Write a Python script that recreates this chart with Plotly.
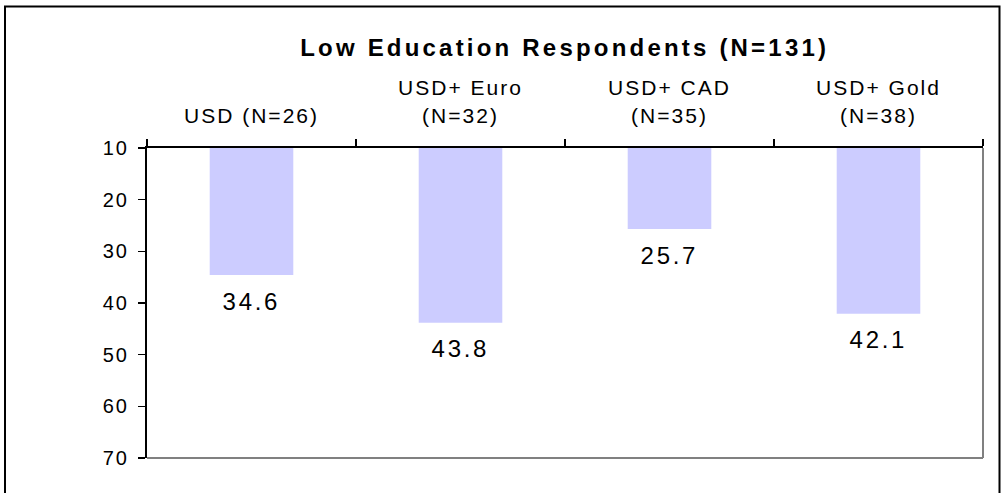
import plotly.graph_objects as go

categories = ["USD (N=26)", "USD+ Euro<br>(N=32)", "USD+ CAD<br>(N=35)", "USD+ Gold<br>(N=38)"]
values = [34.6, 43.8, 25.7, 42.1]
base_value = 10
y_ticks = [10, 20, 30, 40, 50, 60, 70]
title_text = "<b>Low Education Respondents (N=131)</b>"

W, H = 1003, 493
ML, MR, MT, MB = 147, 20, 148, 35
FONT = "Liberation Sans, Arial, sans-serif"

fig = go.Figure()
fig.add_trace(go.Bar(
    x=categories,
    y=[v - base_value for v in values],
    base=base_value,
    width=0.4,
    marker=dict(color="#CCCCFF", line=dict(width=0)),
    hoverinfo="skip",
    showlegend=False,
))

for c, v in zip(categories, values):
    fig.add_annotation(x=c, y=v, text=f"{v:.1f}", showarrow=False,
                       xref="x", yref="y", yanchor="middle", yshift=-26,
                       font=dict(family=FONT, size=24, color="black"))

pw = W - ML - MR
ph = H - MT - MB
# outer frame
fig.add_shape(type="rect", xref="paper", yref="paper",
              x0=(5 - ML) / pw, x1=(999.5 - ML) / pw,
              y0=-0.3, y1=(H - MB - 6.5) / ph,
              line=dict(color="black", width=2), layer="below")
# grey right and bottom plot edges
fig.add_shape(type="line", xref="paper", yref="paper", x0=1, x1=1, y0=0, y1=1,
              line=dict(color="#808080", width=2))
fig.add_shape(type="line", xref="paper", yref="paper", x0=0, x1=1, y0=0, y1=0,
              line=dict(color="#808080", width=2))

fig.update_layout(
    width=W, height=H,
    margin=dict(l=ML, r=MR, t=MT, b=MB, pad=0),
    paper_bgcolor="white", plot_bgcolor="white",
    font=dict(family=FONT, color="black"),
    title=dict(text=title_text, x=(564.7) / W, xanchor="center",
               y=1 - 47.5 / H, yanchor="middle", yref="container",
               font=dict(family=FONT, size=24, color="black")),
    bargap=0.6,
    xaxis=dict(
        side="top", type="category",
        tickson="boundaries", ticks="outside", ticklen=7, tickcolor="black", tickwidth=1.5,
        showline=True, linecolor="black", linewidth=2,
        showgrid=False, zeroline=False,
        tickfont=dict(family=FONT, size=21, color="black"),
        ticklabelstandoff=15,
        fixedrange=True,
    ),
    yaxis=dict(
        range=[70, 10],
        tickvals=y_ticks, ticktext=[str(t) for t in y_ticks],
        ticks="outside", ticklen=7, tickcolor="black", tickwidth=1.5,
        showline=True, linecolor="black", linewidth=2,
        showgrid=False, zeroline=False,
        tickfont=dict(family=FONT, size=20, color="black"),
        ticklabelstandoff=5,
        fixedrange=True,
    ),
)

post = """
document.body.style.margin = '0px';
function spacing(){
  var gd = document.getElementById('{plot_id}');
  gd.querySelectorAll('.gtitle').forEach(function(e){e.style.letterSpacing='3.2px';});
  gd.querySelectorAll('.xtick text').forEach(function(e){e.style.letterSpacing='2px';});
  gd.querySelectorAll('.ytick text').forEach(function(e){e.style.letterSpacing='2px';});
  gd.querySelectorAll('.annotation-text').forEach(function(e){e.style.letterSpacing='2.7px';});
}
spacing();
var gdx = document.getElementById('{plot_id}');
if (gdx && gdx.on) { gdx.on('plotly_afterplot', spacing); }
setTimeout(spacing, 50);
setTimeout(spacing, 300);
"""

fig.write_html("out.html", post_script=post, config={"displayModeBar": False, "staticPlot": True})
